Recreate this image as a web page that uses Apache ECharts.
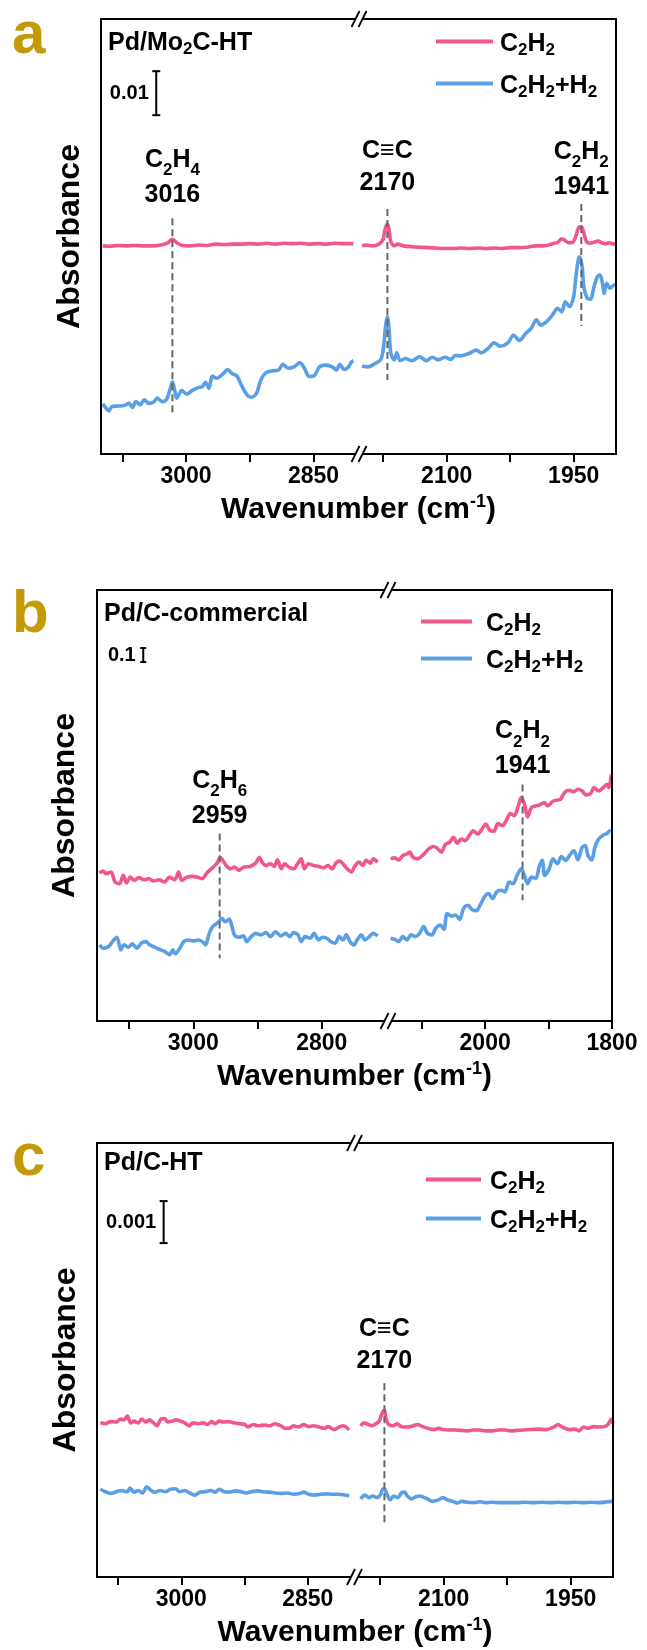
<!DOCTYPE html>
<html>
<head>
<meta charset="utf-8">
<script src="https://cdn.jsdelivr.net/npm/echarts@6/dist/echarts.min.js"></script>
<style>
  html, body { margin: 0; padding: 0; background: #fff; }
  #chart { width: 647px; height: 1650px; }
</style>
</head>
<body>
<div id="chart"></div>
<script>
// ---------------------------------------------------------------
// In-situ DRIFTS spectra: [wavenumber (cm-1), absorbance (offset)]
// Each spectrum is split into a high (C-H) and a low (C≡C) window.
// ---------------------------------------------------------------

// Pd/Mo2C-HT
const mo2cC2H2High = [[3098,0.0473],[3090,0.0472],[3080,0.0474],[3070,0.0473],[3060,0.0474],[3050,0.0473],[3040,0.0473],[3030,0.0475],[3022,0.0479],[3016,0.0488],[3010,0.0479],[3004,0.0474],[2995,0.0473],[2985,0.0475],[2975,0.0474],[2965,0.0477],[2955,0.0476],[2945,0.0477],[2935,0.0477],[2925,0.0478],[2915,0.0477],[2905,0.0479],[2895,0.0477],[2885,0.0479],[2875,0.0478],[2865,0.0479],[2855,0.0477],[2845,0.0478],[2835,0.0477],[2825,0.0479],[2815,0.0478],[2803,0.0478]];
const mo2cC2H2Low = [[2200,0.0473],[2195,0.0475],[2188,0.0473],[2180,0.0477],[2175,0.0488],[2173,0.0509],[2170,0.0523],[2168,0.0509],[2166,0.0483],[2162,0.0473],[2158,0.0477],[2151,0.0473],[2141,0.0471],[2132,0.0470],[2122,0.0469],[2112,0.0468],[2102,0.0467],[2093,0.0467],[2083,0.0468],[2073,0.0467],[2063,0.0468],[2054,0.0467],[2044,0.0468],[2034,0.0467],[2025,0.0469],[2015,0.0469],[2005,0.0470],[1995,0.0473],[1986,0.0473],[1976,0.0477],[1969,0.0481],[1964,0.0489],[1960,0.0485],[1956,0.0480],[1951,0.0481],[1948,0.0492],[1944,0.0515],[1941,0.0517],[1938,0.0502],[1935,0.0483],[1931,0.0479],[1926,0.0481],[1921,0.0484],[1917,0.0480],[1913,0.0478],[1908,0.0480],[1903,0.0477],[1900,0.0479]];
const mo2cC2H2H2High = [[3098,0.0114],[3094,0.0104],[3091,0.0098],[3087,0.0108],[3080,0.0109],[3073,0.0110],[3067,0.0115],[3063,0.0106],[3059,0.0119],[3054,0.0112],[3049,0.0123],[3044,0.0115],[3038,0.0118],[3034,0.0127],[3028,0.0119],[3023,0.0124],[3019,0.0145],[3016,0.0164],[3013,0.0142],[3011,0.0127],[3005,0.0144],[2999,0.0136],[2993,0.0144],[2986,0.0151],[2981,0.0153],[2977,0.0163],[2973,0.0149],[2969,0.0177],[2964,0.0172],[2956,0.0183],[2951,0.0192],[2946,0.0183],[2940,0.0177],[2935,0.0157],[2928,0.0134],[2923,0.0129],[2917,0.0138],[2912,0.0168],[2906,0.0185],[2898,0.0189],[2891,0.0191],[2886,0.0204],[2880,0.0195],[2873,0.0198],[2866,0.0208],[2861,0.0196],[2855,0.0176],[2849,0.0178],[2843,0.0198],[2835,0.0202],[2828,0.0198],[2823,0.0191],[2819,0.0204],[2814,0.0192],[2809,0.0198],[2805,0.0210],[2803,0.0212]];
const mo2cC2H2H2Low = [[2200,0.0200],[2193,0.0198],[2185,0.0205],[2178,0.0214],[2175,0.0236],[2172,0.0293],[2170,0.0312],[2168,0.0282],[2166,0.0229],[2162,0.0214],[2159,0.0230],[2155,0.0212],[2149,0.0217],[2141,0.0212],[2132,0.0221],[2124,0.0212],[2117,0.0220],[2110,0.0214],[2102,0.0220],[2095,0.0215],[2090,0.0224],[2083,0.0223],[2073,0.0229],[2065,0.0236],[2059,0.0230],[2051,0.0240],[2044,0.0253],[2037,0.0245],[2028,0.0252],[2021,0.0270],[2014,0.0258],[2007,0.0273],[2000,0.0286],[1994,0.0305],[1989,0.0293],[1982,0.0301],[1975,0.0316],[1969,0.0331],[1964,0.0323],[1960,0.0346],[1955,0.0335],[1950,0.0358],[1948,0.0392],[1945,0.0437],[1943,0.0448],[1940,0.0426],[1938,0.0380],[1934,0.0354],[1930,0.0352],[1926,0.0380],[1922,0.0403],[1919,0.0407],[1916,0.0388],[1914,0.0365],[1911,0.0388],[1907,0.0377],[1902,0.0384],[1900,0.0384]];

// Pd/C-commercial
const pdcC2H2High = [[3146,1.057],[3141,1.071],[3135,1.052],[3128,1.064],[3122,0.993],[3115,0.981],[3109,1.040],[3104,0.986],[3098,1.028],[3092,1.005],[3085,1.024],[3077,1.009],[3069,1.017],[3062,1.000],[3053,1.009],[3045,0.993],[3037,1.028],[3029,1.009],[3023,1.064],[3018,1.005],[3010,1.028],[3002,1.033],[2994,1.028],[2986,1.017],[2979,1.057],[2972,1.087],[2963,1.128],[2958,1.170],[2954,1.147],[2949,1.111],[2942,1.087],[2936,1.099],[2929,1.076],[2922,1.099],[2912,1.104],[2903,1.128],[2897,1.170],[2893,1.135],[2887,1.111],[2880,1.123],[2874,1.104],[2869,1.151],[2863,1.087],[2858,1.123],[2851,1.099],[2844,1.087],[2837,1.128],[2832,1.158],[2827,1.087],[2821,1.123],[2813,1.111],[2805,1.104],[2797,1.095],[2790,1.111],[2784,1.087],[2778,1.128],[2772,1.142],[2765,1.111],[2759,1.080],[2754,1.064],[2749,1.104],[2742,1.135],[2736,1.111],[2731,1.147],[2724,1.128],[2720,1.158],[2713,1.135]];
const pdcC2H2Low = [[2149,1.158],[2143,1.165],[2136,1.151],[2130,1.182],[2123,1.194],[2119,1.206],[2114,1.170],[2107,1.158],[2102,1.170],[2095,1.199],[2089,1.229],[2082,1.246],[2076,1.236],[2069,1.206],[2063,1.260],[2056,1.277],[2050,1.312],[2044,1.270],[2038,1.300],[2032,1.288],[2025,1.324],[2019,1.359],[2012,1.336],[2006,1.364],[1999,1.407],[1993,1.364],[1986,1.355],[1980,1.411],[1973,1.395],[1967,1.430],[1960,1.482],[1954,1.466],[1947,1.548],[1943,1.596],[1938,1.548],[1933,1.459],[1927,1.525],[1920,1.537],[1914,1.544],[1907,1.560],[1901,1.537],[1894,1.567],[1888,1.577],[1881,1.584],[1875,1.631],[1868,1.648],[1860,1.638],[1854,1.655],[1847,1.643],[1841,1.615],[1834,1.624],[1828,1.667],[1821,1.643],[1815,1.662],[1808,1.690],[1805,1.667],[1801,1.761]];
const pdcC2H2H2High = [[3146,0.544],[3140,0.520],[3132,0.532],[3126,0.567],[3119,0.598],[3113,0.508],[3108,0.544],[3101,0.527],[3095,0.551],[3088,0.520],[3081,0.556],[3074,0.567],[3068,0.544],[3060,0.527],[3051,0.508],[3044,0.496],[3037,0.473],[3032,0.508],[3028,0.480],[3021,0.520],[3015,0.567],[3008,0.579],[3000,0.572],[2992,0.579],[2986,0.567],[2981,0.544],[2976,0.615],[2970,0.674],[2962,0.702],[2955,0.733],[2951,0.709],[2944,0.726],[2940,0.678],[2936,0.615],[2929,0.598],[2922,0.608],[2917,0.567],[2910,0.603],[2903,0.626],[2895,0.615],[2887,0.631],[2880,0.603],[2872,0.638],[2864,0.608],[2856,0.626],[2850,0.603],[2844,0.631],[2837,0.615],[2832,0.567],[2826,0.603],[2818,0.591],[2812,0.626],[2805,0.579],[2799,0.598],[2792,0.591],[2786,0.567],[2779,0.556],[2773,0.603],[2767,0.579],[2762,0.615],[2756,0.567],[2750,0.544],[2745,0.579],[2738,0.615],[2733,0.579],[2726,0.603],[2720,0.626],[2713,0.608]];
const pdcC2H2H2Low = [[2149,0.591],[2143,0.584],[2136,0.567],[2130,0.603],[2123,0.579],[2117,0.615],[2110,0.603],[2104,0.622],[2097,0.674],[2091,0.626],[2084,0.615],[2078,0.662],[2071,0.686],[2065,0.655],[2060,0.768],[2053,0.749],[2047,0.757],[2040,0.726],[2034,0.804],[2027,0.827],[2021,0.797],[2014,0.787],[2008,0.827],[2001,0.887],[1995,0.910],[1988,0.875],[1982,0.922],[1975,0.934],[1969,0.922],[1962,0.993],[1956,0.981],[1949,1.047],[1943,1.087],[1938,1.040],[1933,0.981],[1927,1.028],[1920,1.017],[1915,1.099],[1910,1.147],[1906,1.040],[1899,1.087],[1893,1.158],[1886,1.123],[1880,1.175],[1873,1.147],[1867,1.182],[1860,1.217],[1854,1.151],[1847,1.241],[1842,1.253],[1838,1.182],[1832,1.151],[1827,1.241],[1821,1.300],[1815,1.324],[1808,1.340],[1803,1.359],[1801,1.355]];

// Pd/C-HT
const htC2H2High = [[3096,0.00367],[3090,0.00365],[3084,0.00370],[3077,0.00369],[3072,0.00376],[3068,0.00374],[3064,0.00383],[3060,0.00367],[3056,0.00371],[3051,0.00367],[3047,0.00376],[3042,0.00369],[3038,0.00374],[3033,0.00367],[3029,0.00360],[3024,0.00376],[3020,0.00377],[3016,0.00369],[3011,0.00371],[3006,0.00374],[3001,0.00371],[2996,0.00367],[2991,0.00360],[2986,0.00367],[2980,0.00365],[2974,0.00367],[2969,0.00363],[2964,0.00370],[2960,0.00365],[2955,0.00371],[2950,0.00369],[2944,0.00370],[2938,0.00367],[2931,0.00365],[2925,0.00363],[2921,0.00357],[2915,0.00363],[2908,0.00360],[2901,0.00362],[2895,0.00360],[2889,0.00365],[2882,0.00360],[2877,0.00354],[2872,0.00354],[2867,0.00360],[2861,0.00357],[2855,0.00363],[2849,0.00358],[2843,0.00360],[2837,0.00357],[2830,0.00354],[2826,0.00358],[2819,0.00351],[2813,0.00357],[2808,0.00360],[2801,0.00350]];
const htC2H2Low = [[2198,0.00360],[2194,0.00367],[2189,0.00363],[2185,0.00360],[2180,0.00365],[2176,0.00371],[2173,0.00389],[2170,0.00397],[2168,0.00376],[2165,0.00363],[2160,0.00360],[2155,0.00365],[2150,0.00358],[2143,0.00357],[2136,0.00360],[2131,0.00363],[2125,0.00358],[2119,0.00354],[2112,0.00351],[2106,0.00354],[2101,0.00351],[2094,0.00350],[2087,0.00350],[2080,0.00349],[2072,0.00348],[2065,0.00350],[2058,0.00350],[2050,0.00348],[2043,0.00348],[2035,0.00350],[2028,0.00350],[2020,0.00348],[2014,0.00349],[2006,0.00350],[1999,0.00351],[1989,0.00352],[1979,0.00351],[1970,0.00357],[1965,0.00363],[1960,0.00357],[1952,0.00351],[1945,0.00352],[1940,0.00348],[1935,0.00357],[1930,0.00354],[1923,0.00358],[1916,0.00357],[1910,0.00358],[1906,0.00363],[1902,0.00376],[1900,0.00365]];
const htC2H2H2High = [[3096,0.00209],[3090,0.00203],[3084,0.00199],[3077,0.00203],[3072,0.00206],[3064,0.00203],[3061,0.00212],[3056,0.00202],[3051,0.00206],[3046,0.00200],[3041,0.00215],[3036,0.00206],[3032,0.00202],[3025,0.00206],[3019,0.00203],[3013,0.00209],[3007,0.00210],[3002,0.00203],[2996,0.00206],[2990,0.00200],[2984,0.00195],[2978,0.00202],[2972,0.00203],[2965,0.00206],[2960,0.00202],[2955,0.00209],[2949,0.00203],[2943,0.00202],[2936,0.00205],[2929,0.00203],[2923,0.00200],[2917,0.00203],[2910,0.00205],[2904,0.00203],[2896,0.00202],[2889,0.00200],[2882,0.00199],[2874,0.00200],[2867,0.00197],[2861,0.00198],[2855,0.00202],[2849,0.00197],[2842,0.00195],[2835,0.00197],[2828,0.00198],[2821,0.00197],[2813,0.00197],[2806,0.00195],[2801,0.00193]];
const htC2H2H2Low = [[2198,0.00186],[2193,0.00195],[2188,0.00189],[2184,0.00193],[2179,0.00189],[2175,0.00195],[2172,0.00209],[2170,0.00210],[2167,0.00197],[2163,0.00184],[2159,0.00193],[2154,0.00189],[2150,0.00200],[2146,0.00202],[2143,0.00193],[2138,0.00186],[2133,0.00191],[2128,0.00193],[2123,0.00189],[2119,0.00186],[2114,0.00180],[2107,0.00183],[2101,0.00189],[2096,0.00184],[2089,0.00180],[2084,0.00176],[2079,0.00180],[2072,0.00178],[2065,0.00177],[2057,0.00179],[2050,0.00177],[2043,0.00178],[2033,0.00177],[2023,0.00177],[2014,0.00177],[2004,0.00178],[1994,0.00177],[1984,0.00178],[1974,0.00177],[1965,0.00178],[1955,0.00177],[1945,0.00178],[1935,0.00177],[1926,0.00178],[1916,0.00177],[1906,0.00179],[1900,0.00180]];

// Assigned bands: species, wavenumber, dashed guide extent (absorbance)
const bandsMo2C = [
  { species: 'C2H4', wn: 3016, top: 0.0536, bottom: 0.0089 },
  { species: 'C≡C',  wn: 2170, top: 0.0557, bottom: 0.0168 },
  { species: 'C2H2', wn: 1941, top: 0.0568, bottom: 0.0291 }
];
const bandsPdC = [
  { species: 'C2H6', wn: 2959, top: 1.340, bottom: 0.449 },
  { species: 'C2H2', wn: 1941, top: 1.690, bottom: 0.862 }
];
const bandsHT = [
  { species: 'C≡C', wn: 2170, top: 0.00461, bottom: 0.00123 }
];

// Axis windows (cm-1), ticks and tick labels
const windowsMo2C = { high: [2800, 3100], low: [1900, 2200] };
const windowsPdC  = { high: [2700, 3150], low: [1800, 2150] };
const windowsHT   = { high: [2800, 3100], low: [1900, 2200] };
const ticksMo2CHigh = [3075, 3000, 2925, 2850];
const ticksMo2CLow  = [2175, 2100, 2025, 1950];
const labelsMo2CHigh = [3000, 2850];
const labelsMo2CLow  = [2100, 1950];
const ticksPdCHigh = [3100, 3000, 2900, 2800];
const ticksPdCLow  = [2100, 2000, 1900, 1800];
const labelsPdCHigh = [3000, 2800];
const labelsPdCLow  = [2000, 1800];

// Absorbance scale bars
const scaleBarLengths = [0.01, 0.1, 0.001];
const scaleBarLabels = ['0.01', '0.1', '0.001'];

const sampleNames = ['Pd/Mo2C-HT', 'Pd/C-commercial', 'Pd/C-HT'];
const panelLetters = ['a', 'b', 'c'];
const seriesNames = ['C2H2', 'C2H2+H2'];

// ---------------- layout (pixels) ----------------
const FONT = "'Liberation Sans', Arial, 'DejaVu Sans', sans-serif";
const PINK = '#F3568C';
const BLUE = '#5A9FE6';
const GOLD = '#C39A0A';
const layout = [
  { top: 19,   bottom: 454,  high: [101, 356], low: [362, 616], yMax: 0.09886,
    letterY: 36, titleY: 43, absX: 70,
    legend: { left: 436, tops: [32, 74], w: 57, pad: 2 },
    bar: { wn: 3035, base: 0.0770, cap: 8 }, labelGaps: [6.5, 9, 0.5] },
  { top: 590,  bottom: 1021, high: [97, 386],  low: [390, 612], yMax: 3.0786,
    letterY: 615, titleY: 614, absX: 65,
    legend: { left: 421, tops: [612, 649], w: 51, pad: 9 },
    bar: { wn: 3078, base: 2.564, cap: 6 }, labelGaps: [0.7, 1.4] },
  { top: 1143, bottom: 1577, high: [97, 350],  low: [359, 613], yMax: 0.010333,
    letterY: 1158, titleY: 1163, absX: 66,
    legend: { left: 426, tops: [1170, 1209], w: 55, pad: 4 },
    bar: { wn: 3021, base: 0.00795, cap: 8 }, labelGaps: [5.9] }
];

const panelData = [
  { windows: windowsMo2C, bands: bandsMo2C,
    ticks: [ticksMo2CHigh, ticksMo2CLow], labels: [labelsMo2CHigh, labelsMo2CLow],
    spectra: [[mo2cC2H2High, mo2cC2H2Low], [mo2cC2H2H2High, mo2cC2H2H2Low]] },
  { windows: windowsPdC, bands: bandsPdC,
    ticks: [ticksPdCHigh, ticksPdCLow], labels: [labelsPdCHigh, labelsPdCLow],
    spectra: [[pdcC2H2High, pdcC2H2Low], [pdcC2H2H2High, pdcC2H2H2Low]] },
  { windows: windowsHT, bands: bandsHT,
    ticks: [ticksMo2CHigh, ticksMo2CLow], labels: [labelsMo2CHigh, labelsMo2CLow],
    spectra: [[htC2H2High, htC2H2Low], [htC2H2H2High, htC2H2H2Low]] }
];

// chemical formula -> rich text with subscripted digits
function formula(text, main, sub) {
  return text.replace(/(\d+)|([^\d]+)/g, (m, d, t) => d ? `{${sub}|${d}}` : `{${main}|${t}}`);
}
const bold = { fontWeight: 'bold', fontFamily: FONT, color: '#000' };

const annoRich = {
  f:  Object.assign({ fontSize: 25, lineHeight: 38 }, bold),
  fs: Object.assign({ fontSize: 17, lineHeight: 24, verticalAlign: 'bottom' }, bold),
  n:  Object.assign({ fontSize: 25, lineHeight: 32 }, bold)
};
const legendRich = {
  m: Object.assign({ fontSize: 25, lineHeight: 28 }, bold),
  s: Object.assign({ fontSize: 17, lineHeight: 14, verticalAlign: 'bottom' }, bold)
};
const titleRich = {
  m: Object.assign({ fontSize: 25, lineHeight: 30 }, bold),
  s: Object.assign({ fontSize: 17, lineHeight: 16, verticalAlign: 'bottom' }, bold)
};
const axisTitleRich = {
  m: Object.assign({ fontSize: 30, lineHeight: 34 }, bold),
  sup: Object.assign({ fontSize: 18, lineHeight: 18, verticalAlign: 'top' }, bold)
};

const grid = [], xAxis = [], yAxis = [], series = [], legend = [], graphic = [];

layout.forEach((L, p) => {
  const D = panelData[p];
  const height = L.bottom - L.top;
  ['high', 'low'].forEach((seg, s) => {
    const gi = p * 2 + s;
    grid.push({ left: L[seg][0], top: L.top, width: L[seg][1] - L[seg][0], height: height });
    xAxis.push({
      gridIndex: gi, type: 'value', inverse: true,
      min: D.windows[seg][0], max: D.windows[seg][1],
      axisLine: { show: false },
      axisTick: { show: true, customValues: D.ticks[s], length: 8, lineStyle: { color: '#000', width: 2 } },
      axisLabel: { show: true, customValues: D.labels[s], formatter: v => String(v),
        fontSize: 23, fontWeight: 'bold', fontFamily: FONT, color: '#000', margin: 11 },
      splitLine: { show: false }
    });
    yAxis.push({ gridIndex: gi, type: 'value', min: 0, max: L.yMax, show: false });

    // spectra
    seriesNames.forEach((name, k) => {
      const color = k === 0 ? PINK : BLUE;
      series.push({
        type: 'line', name: name, xAxisIndex: gi, yAxisIndex: gi,
        data: D.spectra[k][s], symbol: 'none', showSymbol: false, smooth: 0.3,
        lineStyle: { color: color, width: 3.6 }, itemStyle: { color: color },
        silent: true, z: 3
      });
    });
  });

  // dashed guides + band labels
  D.bands.forEach((b, j) => {
    const gi = p * 2 + (b.wn >= D.windows.high[0] ? 0 : 1);
    series.push({
      type: 'line', name: 'guide', xAxisIndex: gi, yAxisIndex: gi,
      data: [[b.wn, b.top], [b.wn, b.bottom]], symbol: 'none',
      lineStyle: { color: '#666', width: 2, type: [7, 4] }, silent: true, z: 4
    });
    const hasSub = /\d/.test(b.species);
    series.push({
      type: 'scatter', name: 'band', xAxisIndex: gi, yAxisIndex: gi,
      data: [[b.wn, b.top]], symbolSize: 1, itemStyle: { color: 'rgba(0,0,0,0)', opacity: 1 }, silent: true, z: 5,
      label: {
        show: true, position: 'top', distance: L.labelGaps[j], align: 'center', color: '#000',
        formatter: () => (hasSub ? formula(b.species, 'f', 'fs') : `{n|${b.species}}`) + `\n{n|${b.wn}}`,
        rich: annoRich
      }
    });
  });

  // absorbance scale bar
  const len = scaleBarLengths[p];
  series.push({
    type: 'line', name: 'scale', xAxisIndex: p * 2, yAxisIndex: p * 2,
    data: [[L.bar.wn, L.bar.base], [L.bar.wn, L.bar.base + len]],
    symbol: 'rect', symbolSize: [L.bar.cap, 2], showSymbol: true,
    lineStyle: { color: '#000', width: 2 }, itemStyle: { color: '#000' }, silent: true, z: 5
  });
  series.push({
    type: 'scatter', name: 'scaleLabel', xAxisIndex: p * 2, yAxisIndex: p * 2,
    data: [[L.bar.wn, L.bar.base + len / 2]], symbolSize: 1,
    itemStyle: { color: 'rgba(0,0,0,0)', opacity: 1 }, silent: true,
    label: { show: true, position: 'left', distance: 7, formatter: scaleBarLabels[p],
      fontSize: 20, fontWeight: 'bold', fontFamily: FONT, color: '#000' }
  });

  // legend: one entry per row
  seriesNames.forEach((name, k) => {
    legend.push({
      orient: 'vertical', left: L.legend.left, top: L.legend.tops[k], padding: 0,
      itemWidth: L.legend.w, itemHeight: 4, icon: 'rect',
      selectedMode: false, data: [name],
      formatter: n => formula(n, 'm', 's'),
      textStyle: { padding: [6, 0, 0, L.legend.pad], rich: legendRich }
    });
  });

  // frame, break marks, titles
  const x0 = L.high[0], x1 = L.low[1];
  const cx = (L.high[1] + L.low[0]) / 2;
  graphic.push({ type: 'rect', shape: { x: x0, y: L.top, width: x1 - x0, height: height },
    style: { fill: 'none', stroke: '#000', lineWidth: 2 }, z: 10, silent: true });
  [L.top, L.bottom].forEach(y => {
    graphic.push({ type: 'rect', shape: { x: cx - 4, y: y - 3, width: 8, height: 6 },
      style: { fill: '#fff' }, z: 11, silent: true });
    [-3.5, 3.5].forEach(dx => {
      graphic.push({ type: 'line', shape: { x1: cx + dx - 4, y1: y + 8, x2: cx + dx + 4, y2: y - 8 },
        style: { stroke: '#000', lineWidth: 1.8 }, z: 12, silent: true });
    });
  });
  graphic.push({ type: 'text', x: 12, y: L.letterY, z: 12, silent: true,
    style: { text: panelLetters[p], fontSize: 60, fontWeight: 'bold', fontFamily: FONT, fill: GOLD,
      align: 'left', verticalAlign: 'middle' } });
  graphic.push({ type: 'text', x: x0 + 7, y: L.titleY, z: 12, silent: true,
    style: { text: formula(sampleNames[p], 'm', 's'), rich: titleRich, align: 'left', verticalAlign: 'middle' } });
  graphic.push({ type: 'text', x: (x0 + x1) / 2, y: L.bottom + 56, z: 12, silent: true,
    style: { text: '{m|Wavenumber (cm}{sup|-1}{m|)}', rich: axisTitleRich, align: 'center', verticalAlign: 'middle' } });
  graphic.push({ type: 'text', x: L.absX, y: (L.top + L.bottom) / 2, rotation: Math.PI / 2, z: 12, silent: true,
    style: { text: 'Absorbance', fontSize: 32, fontWeight: 'bold', fontFamily: FONT, fill: '#000',
      align: 'center', verticalAlign: 'middle' } });
});

const chart = echarts.init(document.getElementById('chart'), null, { renderer: 'canvas' });
chart.setOption({
  animation: false,
  backgroundColor: '#fff',
  grid, xAxis, yAxis, series, legend, graphic
});
</script>
</body>
</html>
